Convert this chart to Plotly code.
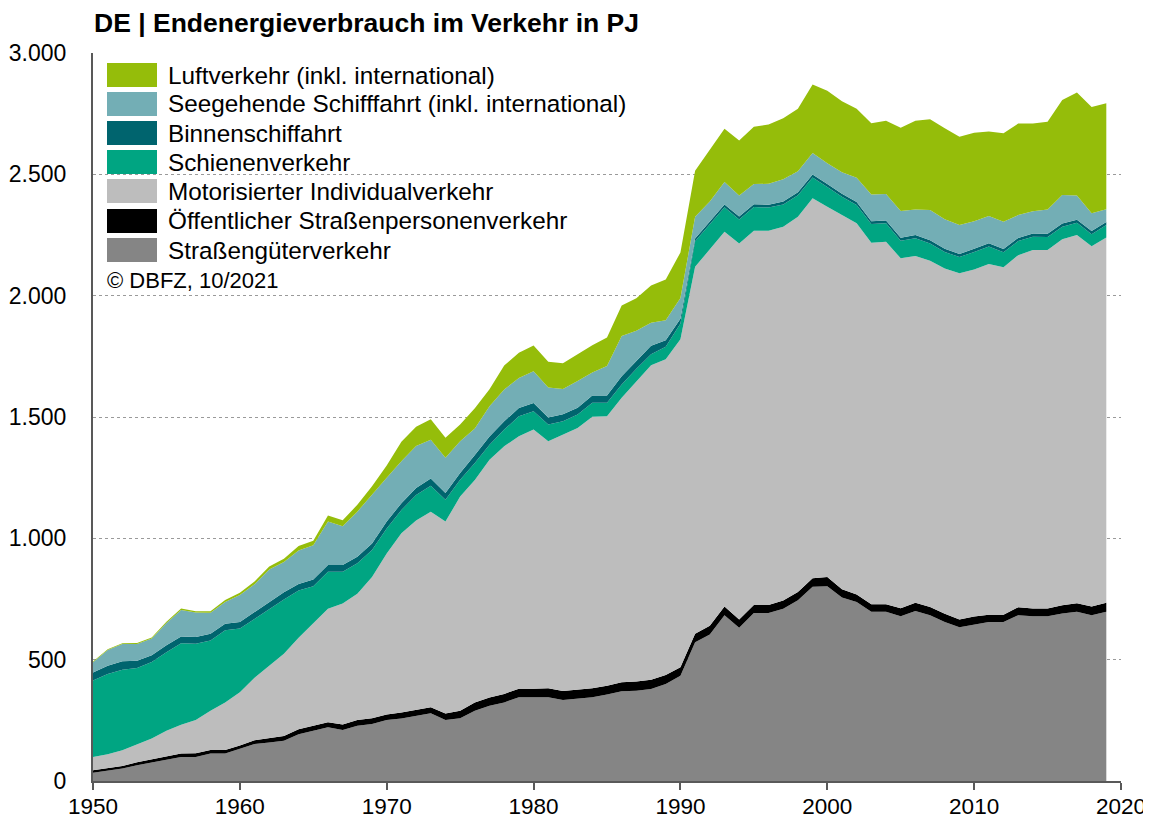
import plotly.graph_objects as go

years = list(range(1950, 2020))

strassengueter = [34,41,51,65,76,90,99,99,113,113, 131,152,159,166,193,207,221,210,228,235,
                  251,258,269,279,251,259,290,310,324,345, 345,345,334,338,345,356,370,372,379,400,
                  434,572,604,683,632,692,692,710,745,800, 803,756,738,697,697,679,701,683,655,634,
                  646,655,655,683,679,679,690,697,683,697]
oepnv = [10,11,11,12,13,13,14,15,15,15, 15,16,18,19,20,21,21,23,23,24,
         23,24,24,25,27,30,33,34,35,35, 35,37,37,37,37,37,37,38,38,37,
         35,35,36,36,34,33,33,34,34,36, 38,34,31,31,31,33,34,34,34,32,
         32,30,30,33,32,32,34,36,36,38]
miv = [55,58,65,75,86,104,119,137,162,196, 220,257,299,339,377,420,468,498,521,582,
       664,739,780,806,791,883,917,980,1020,1041, 1068,1018,1057,1080,1119,1110,1172,1238,1296,1301,
       1351,1512,1551,1544,1549,1543,1543,1540,1546,1565, 1525,1542,1529,1490,1494,1442,1428,1427,1423,1426,
       1430,1445,1432,1451,1477,1477,1508,1517,1485,1505]
schiene = [315,331,331,314,315,324,336,315,289,297, 262,244,234,224,195,155,152,131,125,111,
           103,96,106,107,90,69,70,62,69,82, 76,69,55,55,58,56,55,51,46,52,
           65,105,103,101,99,97,95,92,89,86, 82,76,76,77,76,72,74,71,68,67,
           72,73,62,58,55,54,52,50,49,51]
binnen = [33,34,35,30,28,28,27,27,28,27, 27,28,28,30,27,27,28,28,27,27,
          28,28,28,30,28,28,33,34,34,34, 34,29,28,28,30,30,34,32,35,26,
          20,12,12,12,12,12,12,12,12,12, 12,12,12,12,12,13,13,13,13,13,
          13,13,13,13,13,13,13,13,13,13]
seeschiff = [42,65,72,69,69,92,110,101,86,90, 111,114,134,124,138,142,179,160,186,203,
             181,173,173,159,145,131,110,124,131,124, 131,124,104,110,94,121,166,124,94,83,
             85,89,82,92,87,83,86,92,87,89, 86,89,100,110,109,110,105,125,122,119,
             114,112,113,94,92,100,118,100,74,52]
luft = [3,3,3,4,4,5,6,6,7,8, 10,11,12,14,18,18,25,25,28,33,
        50,80,80,85,83,69,83,70,99,104, 106,106,107,111,113,118,125,134,154,168,
        188,190,213,220,226,236,244,251,257,282, 298,292,284,294,302,343,366,374,375,364,
        364,348,364,377,361,362,391,424,437,437]

series = [
    ("Straßengüterverkehr", strassengueter, "#858585"),
    ("Öffentlicher Straßenpersonenverkehr", oepnv, "#000000"),
    ("Motorisierter Individualverkehr", miv, "#BDBDBD"),
    ("Schienenverkehr", schiene, "#00A582"),
    ("Binnenschiffahrt", binnen, "#00646E"),
    ("Seegehende Schifffahrt (inkl. international)", seeschiff, "#73AEB5"),
    ("Luftverkehr (inkl. international)", luft, "#95BD0A"),
]
legend_order = list(reversed(series))

x_ticks = list(range(1950, 2021, 10))
y_ticks = list(range(0, 3001, 500))

FONT = "Liberation Sans, Arial, sans-serif"
# the page body adds an 8px offset; the figure is sized so that the plot area
# sits at page pixels x 93..1121, y 53..781
OFF = 8
W, H = 1151, 818
L, R, T, B = 85, 38, 45, 45
PLOT_X0, PLOT_Y1 = OFF + L, OFF + H - B
PLOT_W, PLOT_H = W - L - R, H - T - B

fig = go.Figure()
for name, vals, col in series:
    fig.add_trace(go.Scatter(
        x=years, y=vals, name=name, mode="lines", stackgroup="one",
        line=dict(width=0, color=col), fillcolor=col, showlegend=False,
        hovertemplate="%{x}: %{y} PJ<extra>" + name + "</extra>"))

def px(p):
    return (p - PLOT_X0) / PLOT_W

def py(p):
    return (PLOT_Y1 - p) / PLOT_H

shapes = []
annotations = []
row_y = [75, 104, 133, 162, 191, 221, 250]
for (name, vals, col), ry in zip(legend_order, row_y):
    shapes.append(dict(type="rect", xref="paper", yref="paper",
                       x0=px(107), x1=px(157), y0=py(ry + 12), y1=py(ry - 12),
                       fillcolor=col, line=dict(width=0), layer="above"))
    annotations.append(dict(text=name, xref="paper", yref="paper", x=px(166), y=py(ry),
                            xanchor="left", yanchor="middle", showarrow=False,
                            font=dict(family=FONT, size=24.3, color="#000000")))
annotations.append(dict(text="© DBFZ, 10/2021", xref="paper", yref="paper", x=px(105), y=py(280),
                        xanchor="left", yanchor="middle", showarrow=False,
                        font=dict(family=FONT, size=22, color="#000000")))

fig.update_layout(
    template="none",
    width=W, height=H, autosize=False,
    margin=dict(l=L, r=R, t=T, b=B, pad=0),
    paper_bgcolor="white", plot_bgcolor="white",
    separators=",.",
    font=dict(family=FONT, color="#000000"),
    title=dict(text="<b>DE | Endenergieverbrauch im Verkehr in PJ</b>",
               x=px(94), xref="paper", xanchor="left",
               y=1 - (23 - OFF) / H, yref="container", yanchor="middle",
               font=dict(family=FONT, size=26.5, color="#000000")),
    shapes=shapes, annotations=annotations,
    showlegend=False,
    xaxis=dict(range=[1950, 2020], tickmode="array", tickvals=x_ticks,
               ticktext=[str(v) for v in x_ticks], automargin=False,
               showgrid=False, zeroline=False, showline=True, linecolor="#595959", linewidth=2,
               ticks="outside", ticklen=7, tickwidth=2, tickcolor="#595959",
               ticklabelstandoff=-3,
               tickfont=dict(family=FONT, size=22.5, color="#000000")),
    yaxis=dict(range=[0, 3000], tickmode="array", tickvals=y_ticks, tickformat=",d",
               automargin=False,
               showgrid=True, gridcolor="#9a9a9a", gridwidth=1, griddash="dot",
               zeroline=False, showline=True, linecolor="#595959", linewidth=2,
               ticks="", ticklabelstandoff=20,
               tickfont=dict(family=FONT, size=23, color="#000000")),
)

fig.write_html("out.html")
